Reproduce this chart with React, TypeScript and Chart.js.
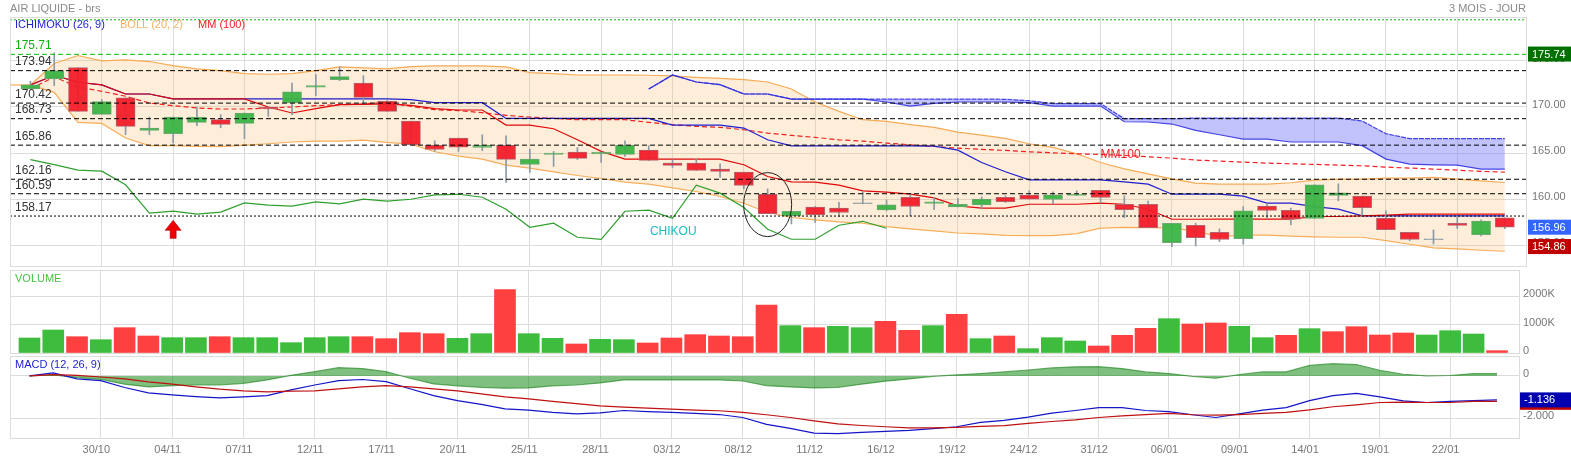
import { useEffect, useRef } from 'react'
import { Chart, LinearScale, registerables } from 'chart.js'

const opens = [171.96, 173.04, 174.28, 169.2, 170.98, 167.46, 167.1, 168.33, 168.62, 168.22, 170, 170.43, 172.14, 172.97, 172.6, 170.62, 168.48, 165.83, 166.63, 165.61, 165.83, 163.76, 164.85, 165.1, 164.92, 164.85, 165.32, 163.91, 163.91, 163.26, 162.93, 160.53, 158.18, 159.13, 159.02, 159.6, 158.84, 160.21, 159.53, 159.17, 159.38, 160.21, 160.43, 159.96, 160.4, 160.97, 159.45, 159.45, 155.29, 157.17, 156.41, 155.72, 159.24, 158.8, 157.9, 160.4, 160.33, 157.93, 156.41, 155.7, 157.39, 156.16, 157.97]
const closes = [172.39, 173.95, 169.53, 170.58, 167.9, 167.72, 168.91, 168.91, 168.12, 169.35, 169.78, 171.63, 172.32, 173.3, 171.05, 169.53, 165.9, 165.39, 165.65, 165.83, 164.31, 164.34, 165, 164.42, 165.1, 165.83, 164.2, 163.65, 163.11, 163, 161.48, 158.43, 158.69, 158.33, 158.55, 159.5, 159.38, 159.2, 159.71, 159.45, 160, 159.74, 160, 160.47, 160.54, 160.18, 158.87, 156.91, 157.39, 155.83, 155.62, 158.73, 158.77, 157.83, 161.56, 160.69, 159.09, 156.7, 155.62, 155.6, 157.14, 157.61, 156.96]
const highs = [172.79, 175.87, 174.28, 170.8, 170.98, 168.91, 168.91, 170, 169.17, 169.35, 170, 172.6, 173.51, 174.35, 173.41, 170.7, 168.48, 166.34, 166.63, 166.99, 166.88, 165.43, 165.18, 165.6, 165.1, 166.34, 165.79, 164.27, 164.34, 163.84, 162.93, 161.12, 158.69, 159.2, 159.67, 160.83, 159.92, 160.54, 160.21, 160.1, 160.25, 160.36, 160.9, 160.8, 160.9, 160.97, 160.36, 159.8, 157.39, 157.39, 156.78, 159.2, 159.49, 159.02, 161.56, 161.67, 160.33, 158.73, 156.41, 156.67, 158.12, 157.75, 157.97]
const lows = [171.96, 172.32, 169.53, 169.2, 167, 167, 166.09, 167.97, 167.75, 166.56, 168.99, 169.17, 171.23, 172.86, 170.36, 169.53, 165.9, 165.18, 165.18, 165.25, 161.81, 162.9, 163.55, 164.3, 163.98, 164.63, 164.2, 163.44, 163.11, 162.35, 161.12, 158.43, 157.31, 157.46, 158.11, 159.49, 158.73, 158.18, 158.87, 159.17, 158.95, 159.63, 160, 159.49, 160.4, 159.56, 157.99, 156.91, 154.85, 154.92, 155.4, 155.11, 157.93, 157.21, 157.9, 159.82, 158.12, 156.7, 155.5, 155.14, 156.81, 156.01, 156.81]

const bollUpper = [172.39, 174.71, 175.58, 175, 175.11, 174.93, 174.49, 174.13, 173.95, 173.62, 173.55, 173.62, 173.95, 174.35, 174.24, 174.13, 174.38, 174.45, 174.45, 174.45, 174.34, 173.73, 173.62, 173.47, 173.47, 173.47, 173.44, 173.37, 173.22, 173.11, 172.97, 172.71, 171.95, 170.54, 169.52, 168.62, 168.44, 168.08, 167.79, 167.28, 166.95, 166.59, 166.01, 165.61, 164.92, 163.98, 163.29, 162.75, 162.2, 161.74, 161.63, 161.63, 161.63, 161.78, 162.07, 162.17, 162.17, 162.28, 162.28, 162.36, 162.17, 161.99, 161.81]
const bollLower = [172.39, 171.59, 168.33, 168.22, 166.63, 165.8, 165.8, 165.72, 165.69, 165.87, 166.01, 166.2, 166.3, 166.3, 166.41, 166.16, 165.97, 165.14, 164.67, 164.34, 163.69, 163.37, 162.97, 162.57, 162.24, 161.84, 161.63, 161.23, 160.83, 160.29, 159.56, 158.55, 158.01, 157.75, 157.53, 157.39, 157.03, 156.77, 156.55, 156.33, 156.23, 156.08, 156.05, 156.05, 156.27, 156.85, 156.95, 156.91, 156.88, 156.5, 155.94, 156.09, 156.09, 155.98, 155.91, 155.87, 155.87, 155.51, 155.11, 154.71, 154.6, 154.46, 154.35]
const mm100 = [171.96, 173.26, 172.17, 171.7, 171.16, 170.43, 170.14, 169.89, 169.78, 169.78, 169.89, 170, 170.14, 170.25, 170.33, 170.5, 170.07, 169.71, 169.6, 169.38, 169.09, 168.91, 168.76, 168.62, 168.62, 168.62, 168.33, 168.08, 167.9, 167.79, 167.53, 167.17, 166.91, 166.7, 166.44, 166.3, 166.08, 165.9, 165.72, 165.54, 165.4, 165.29, 165.14, 165.03, 164.92, 164.85, 164.74, 164.6, 164.45, 164.24, 164.13, 164.02, 163.91, 163.84, 163.77, 163.7, 163.62, 163.48, 163.37, 163.26, 163.15, 163.01, 162.93]
const tenkan = [172.39, 173.44, 172.68, 172.39, 171.41, 171.41, 170.87, 170.87, 170.87, 170.87, 170, 169.35, 169.82, 170.25, 170.29, 170.33, 170.18, 169.82, 169.67, 169.67, 168.04, 168.04, 167.64, 166.44, 165.18, 164.34, 164.34, 164.34, 164.34, 164.34, 163.73, 162.46, 161.88, 161.85, 161.52, 160.9, 160.76, 160.54, 160.14, 159.27, 159.02, 159.02, 159.45, 159.45, 159.45, 159.56, 159.45, 158.91, 157.82, 157.82, 157.83, 157.83, 157.83, 157.83, 158.12, 158.12, 158.19, 158.26, 158.37, 158.37, 158.37, 158.37, 158.37]
const kijun = [172.39, 173.44, 172.68, 172.39, 171.41, 171.41, 170.87, 170.87, 170.87, 170.87, 170.87, 170.87, 170.87, 170.87, 170.87, 170.87, 170.79, 170.47, 170.47, 170.47, 168.76, 168.76, 168.76, 168.76, 168.76, 168.76, 168.76, 168.04, 168.04, 168.04, 167.71, 166.44, 165.79, 165.79, 165.79, 165.79, 165.79, 165.79, 165.76, 165.32, 163.98, 162.97, 162.1, 162.1, 162.1, 162.1, 161.88, 161.63, 160.54, 160.54, 160.54, 160.33, 159.57, 159.57, 159.2, 158.91, 158.19, 158.19, 158.19, 158.19, 158.19, 158.19, 158.19]
const chikou = [164.28, 163.74, 163.15, 163.04, 161.56, 158.48, 158.7, 158.37, 158.59, 159.6, 159.35, 159.24, 159.71, 159.49, 160, 159.78, 159.99, 160.47, 160.53, 160.21, 158.91, 156.95, 157.39, 155.87, 155.65, 158.69, 158.8, 157.93, 161.52, 160.65, 159.09, 156.74, 155.65, 155.65, 157.17, 157.6, 156.85]
// both spans start 26 sessions in
const cloudStart = 26
const spanA = [171.95, 173.47, 172.71, 172.42, 171.41, 171.41, 170.86, 170.86, 170.86, 170.86, 170.86, 170.86, 170.86, 170.86, 170.86, 170.83, 170.68, 170.36, 170.36, 170.36, 168.73, 168.73, 168.73, 168.8, 168.8, 168.8, 168.8, 168.8, 168.8, 168.8, 168.48, 167.1, 166.56, 166.56, 166.56, 166.56, 166.56]
const spanB = [171.95, 173.47, 172.71, 172.42, 171.41, 171.41, 170.86, 170.86, 170.86, 170.86, 170.54, 170.1, 170.39, 170.54, 170.54, 170.54, 170.47, 170.1, 170.1, 170.1, 168.4, 168.37, 168.15, 167.46, 166.99, 166.52, 166.52, 166.2, 166.2, 166.2, 165.8, 164.35, 163.8, 163.73, 163.7, 163.26, 163.26]

const levels = [175.71, 173.94, 170.42, 168.73, 165.86, 162.16, 160.59, 158.17]
const topLevel = 179.46

// volumes in thousands, with the direction the bar is coloured by
const volumes = [529, 812, 576, 470, 894, 600, 541, 541, 576, 541, 541, 365, 541, 576, 576, 506, 718, 682, 518, 682, 2235, 682, 518, 318, 482, 470, 353, 529, 647, 600, 576, 1694, 965, 894, 941, 894, 1118, 800, 965, 1365, 506, 600, 153, 541, 424, 247, 624, 871, 1212, 1024, 1059, 941, 541, 624, 859, 753, 929, 635, 706, 635, 788, 670, 82]
const volumeUp = [1, 1, 0, 1, 0, 0, 1, 1, 0, 1, 1, 1, 1, 1, 0, 0, 0, 0, 1, 1, 0, 1, 1, 0, 1, 1, 0, 0, 0, 0, 0, 0, 1, 0, 1, 1, 0, 0, 1, 0, 1, 0, 1, 1, 1, 0, 0, 0, 1, 0, 0, 1, 1, 0, 1, 0, 0, 0, 0, 1, 1, 1, 0]
const volumeTicks = [0, 1000, 2000]

const macd = [0, 0.14, -0.14, -0.22, -0.55, -0.8, -0.9, -0.98, -1.04, -0.99, -0.93, -0.66, -0.43, -0.22, -0.17, -0.27, -0.61, -0.93, -1.17, -1.35, -1.56, -1.62, -1.73, -1.8, -1.75, -1.64, -1.69, -1.73, -1.78, -1.83, -1.97, -2.3, -2.49, -2.71, -2.74, -2.68, -2.63, -2.58, -2.5, -2.41, -2.2, -2.11, -1.95, -1.76, -1.64, -1.5, -1.5, -1.64, -1.69, -1.84, -1.97, -1.8, -1.62, -1.5, -1.17, -0.93, -0.83, -0.99, -1.18, -1.26, -1.21, -1.17, -1.136]
const signal = [0, 0.06, 0.03, -0.05, -0.14, -0.28, -0.39, -0.52, -0.63, -0.71, -0.76, -0.72, -0.71, -0.61, -0.52, -0.46, -0.52, -0.61, -0.71, -0.85, -0.99, -1.09, -1.21, -1.31, -1.42, -1.48, -1.53, -1.57, -1.62, -1.65, -1.73, -1.84, -1.97, -2.13, -2.27, -2.35, -2.41, -2.46, -2.46, -2.44, -2.39, -2.36, -2.25, -2.16, -2.08, -1.97, -1.89, -1.83, -1.78, -1.84, -1.86, -1.83, -1.78, -1.73, -1.61, -1.46, -1.37, -1.26, -1.24, -1.26, -1.26, -1.21, -1.21]
const histogram = [0, 0.05, -0.08, -0.16, -0.39, -0.52, -0.46, -0.43, -0.43, -0.35, -0.19, 0.03, 0.2, 0.39, 0.35, 0.2, -0.11, -0.38, -0.47, -0.54, -0.58, -0.57, -0.47, -0.43, -0.33, -0.19, -0.19, -0.19, -0.19, -0.19, -0.24, -0.46, -0.52, -0.57, -0.54, -0.39, -0.25, -0.14, -0.02, 0.05, 0.11, 0.19, 0.28, 0.38, 0.43, 0.44, 0.35, 0.19, 0.11, -0.02, -0.11, 0.06, 0.19, 0.19, 0.5, 0.58, 0.54, 0.27, 0.08, 0, 0.02, 0.11, 0.11]

// one date every third session, starting at session 3
const tickDates = ['30/10', '04/11', '07/11', '12/11', '17/11', '20/11', '25/11', '28/11', '03/12', '08/12', '11/12', '16/12', '19/12', '24/12', '31/12', '06/01', '09/01', '14/01', '19/01', '22/01']
const tickSessions = tickDates.map((_, i) => (i + 1) * 3)

const FONT = '"Liberation Sans", Arial, sans-serif'
const GRID = '#dcdcdc'
const points = (values: number[], start = 0) => values.map((y, i) => ({ x: i + start, y }))

// the lower panels are squeezed a little after session 43
class KneeScale extends LinearScale {
  static id = 'knee'
  getPixelForValue(value: number) {
    const knee = 43
    const share = 0.6904
    const t = value <= knee
      ? ((value - this.min) / (knee - this.min)) * share
      : share + ((value - knee) / (this.max - knee)) * (1 - share)
    return this.left + t * this.width
  }
}

Chart.register(...registerables, KneeScale)

function text(ctx: CanvasRenderingContext2D, s: string, x: number, y: number, color: string, size = 11) {
  ctx.font = `${size}px ${FONT}`
  ctx.fillStyle = color
  ctx.textAlign = 'left'
  ctx.textBaseline = 'middle'
  ctx.fillText(s, x, y)
}

function valueBox(ctx: CanvasRenderingContext2D, s: string, left: number, y: number, bg: string) {
  ctx.fillStyle = bg
  ctx.fillRect(left, y - 7.5, 1571 - left, 15)
  text(ctx, s, left + 4, y + 0.5, '#fff')
}

function frame(chart: Chart) {
  const { ctx, chartArea: a } = chart
  ctx.save()
  ctx.strokeStyle = GRID
  ctx.lineWidth = 1
  ctx.strokeRect(a.left + 0.5, a.top + 0.5, a.right - a.left, a.bottom - a.top)
  ctx.restore()
}

// fixed axis width, and no room kept for half a tick label above and below
const fitY = (width: number) => (s: any) => {
  s.width = width
  s.paddingTop = 0
  s.paddingBottom = 0
}

function sharedOptions(padding: object, yOptions: object, xOptions: object, xType: string, xMin: number, xMax: number): any {
  return {
    animation: false,
    responsive: false,
    events: [],
    layout: { autoPadding: false, padding },
    plugins: { legend: { display: false }, tooltip: { enabled: false } },
    scales: {
      x: {
        type: xType,
        min: xMin,
        max: xMax,
        offset: false,
        grid: { color: GRID, drawTicks: false, offset: false },
        border: { display: false },
        afterBuildTicks: (s: any) => { s.ticks = tickSessions.map((value) => ({ value })) },
        ...xOptions,
      },
      y: {
        position: 'right',
        grid: { color: GRID, drawTicks: false },
        border: { display: false },
        ...yOptions,
      },
    },
  }
}

function line(data: object[], color: string, order: number, extra: object = {}) {
  return { type: 'line', data, borderColor: color, borderWidth: 1.2, pointRadius: 0, tension: 0, fill: false, order, ...extra }
}

const mainOverlay = {
  id: 'mainOverlay',
  afterDraw(chart: any) {
    const { ctx } = chart
    const x = chart.scales.x
    const y = chart.scales.y
    frame(chart)
    ctx.save()

    text(ctx, 'AIR LIQUIDE - brs', 10, 8.5, '#8a8a8a')
    text(ctx, '3 MOIS - JOUR', 1449, 8.5, '#8a8a8a')
    text(ctx, 'ICHIMOKU (26, 9)', 15, 25, '#2222cc')
    text(ctx, 'BOLL (20, 2)', 120, 25, '#f7b060')
    text(ctx, 'MM (100)', 198, 25, '#ee2222')

    levels.forEach((level, i) => {
      text(ctx, level.toFixed(2), 15, y.getPixelForValue(level) - 8.5, i === 0 ? '#10b010' : '#333', 12)
    })

    text(ctx, 'MM100', x.getPixelForValue(45), y.getPixelForValue(164.8), '#ee2222', 12)
    text(ctx, 'CHIKOU', x.getPixelForValue(26.05), y.getPixelForValue(156.5), '#18bcc4', 12)

    // signal arrow under the 04/11 session
    const ax = x.getPixelForValue(6)
    const at = y.getPixelForValue(157.7)
    ctx.fillStyle = '#f00000'
    ctx.strokeStyle = '#b00000'
    ctx.lineWidth = 0.6
    ctx.beginPath()
    ctx.moveTo(ax, at)
    ctx.lineTo(ax + 8, at + 10)
    ctx.lineTo(ax + 3, at + 10)
    ctx.lineTo(ax + 3, at + 18)
    ctx.lineTo(ax - 3, at + 18)
    ctx.lineTo(ax - 3, at + 10)
    ctx.lineTo(ax - 8, at + 10)
    ctx.closePath()
    ctx.fill()
    ctx.stroke()

    // circled candle
    ctx.strokeStyle = '#222'
    ctx.lineWidth = 1
    ctx.beginPath()
    ctx.ellipse(x.getPixelForValue(31), y.getPixelForValue(159.41), 24, 32, 0, 0, Math.PI * 2)
    ctx.stroke()

    valueBox(ctx, '175.74', 1528, y.getPixelForValue(175.74), '#007000')
    valueBox(ctx, closes[closes.length - 1].toFixed(2), 1528, y.getPixelForValue(156.96), '#3366ff')
    valueBox(ctx, '154.86', 1528, y.getPixelForValue(154.86), '#c00000')
    ctx.restore()
  },
}

const volumeOverlay = {
  id: 'volumeOverlay',
  afterDraw(chart: any) {
    frame(chart)
    text(chart.ctx, 'VOLUME', 15, 11, '#44c444')
  },
}

const macdOverlay = {
  id: 'macdOverlay',
  afterDraw(chart: any) {
    const { ctx } = chart
    const y = chart.scales.y
    frame(chart)
    text(ctx, 'MACD (12, 26, 9)', 15, 10, '#2222cc')
    ctx.fillStyle = '#c00000'
    ctx.fillRect(1520, y.getPixelForValue(-1.25) - 7.5, 51, 15)
    valueBox(ctx, macd[macd.length - 1].toFixed(3), 1520, y.getPixelForValue(-1.136), '#0000b0')
  },
}

function mainConfig(): any {
  const isDoji = (i: number) => Math.abs(opens[i] - closes[i]) <= 0.1
  const candleFill = opens.map((o, i) => (isDoji(i) ? '#8a9aa0' : closes[i] > o ? 'rgba(60,180,70,0.95)' : 'rgba(242,30,42,0.95)'))
  const candleEdge = opens.map((o, i) => (isDoji(i) ? '#8a9aa0' : closes[i] > o ? '#6fa873' : '#b5646e'))
  const xMin = -0.86
  const xMax = 62.89
  const levelLine = (y: number, color: string, dash: number[]) =>
    line([{ x: xMin, y }, { x: xMax, y }], color, 0, { borderDash: dash, borderWidth: 1 })
  return {
    type: 'bar',
    data: {
      datasets: [
        levelLine(topLevel, '#00c000', [2, 2]),
        ...levels.map((l, i) => levelLine(l, i === 0 ? '#00c000' : '#000', i === levels.length - 1 ? [2, 2] : [5, 3])),
        {
          type: 'bar',
          data: opens.map((o, i) => ({ x: i, y: [o, closes[i]] })),
          backgroundColor: candleFill,
          borderColor: candleEdge,
          borderWidth: 1,
          borderSkipped: false,
          barThickness: 19,
          grouped: false,
          order: 2,
        },
        {
          type: 'bar',
          data: lows.map((l, i) => ({ x: i, y: [l, highs[i]] })),
          backgroundColor: '#8a9aa6',
          barThickness: 1,
          grouped: false,
          order: 3,
        },
        line(points(tenkan), '#e00808', 4),
        line(points(kijun), '#1f1fd0', 5),
        line(points(mm100), '#f02020', 6, { borderDash: [5, 3] }),
        line(points(chikou), '#2f9f2f', 7),
        line(points(spanA, cloudStart), 'rgba(40,40,225,0.85)', 8, { borderDash: [5, 1] }),
        line(points(spanB, cloudStart), 'rgba(40,40,225,0.85)', 9, {
          fill: '-1',
          backgroundColor: 'rgba(110,110,250,0.42)',
        }),
        line(points(bollUpper), '#f7ab55', 10, { fill: '+1', backgroundColor: 'rgba(248,190,120,0.28)' }),
        line(points(bollLower), '#f7ab55', 11),
        line([{ x: xMin, y: bollUpper[0] }, { x: 0, y: bollUpper[0] }], '#f7ab55', 11),
      ],
    },
    options: sharedOptions(
      { left: 10, top: 17, right: 0, bottom: 2 },
      {
        min: 152.75,
        max: 179.76,
        afterFit: fitY(45),
        ticks: {
          stepSize: 5,
          includeBounds: false,
          padding: 6,
          labelOffset: -2,
          color: '#777',
          font: { family: FONT, size: 11 },
          callback: (v: number) => v.toFixed(2),
        },
      },
      {
        ticks: { display: false },
        afterFit: (s: any) => { s.height = 0 },
      },
      'linear',
      xMin,
      xMax,
    ),
    plugins: [mainOverlay],
  }
}

function volumeConfig(): any {
  return {
    type: 'bar',
    data: {
      datasets: [
        {
          data: volumes.map((y, x) => ({ x, y })),
          backgroundColor: volumeUp.map((up) => (up ? 'rgba(44,182,44,0.92)' : 'rgba(255,48,48,0.92)')),
          barThickness: 21,
          grouped: false,
        },
      ],
    },
    options: sharedOptions(
      { left: 10, top: 2, right: 0, bottom: 2 },
      {
        min: 0,
        max: 2930,
        afterFit: fitY(52),
        afterBuildTicks: (s: any) => { s.ticks = volumeTicks.map((value) => ({ value })) },
        ticks: {
          padding: 4,
          labelOffset: -2,
          color: '#777',
          font: { family: FONT, size: 11 },
          callback: (v: number) => (v === 0 ? '0' : `${v}K`),
        },
      },
      {
        ticks: { display: false },
        afterFit: (s: any) => { s.height = 0 },
      },
      'knee',
      -0.82,
      62.94,
    ),
    plugins: [volumeOverlay],
  }
}

function macdConfig(): any {
  return {
    type: 'line',
    data: {
      datasets: [
        line(points(signal), '#c01010', 1),
        line(points(macd), '#1414c8', 2),
        line(points(histogram), 'rgba(40,140,40,0.7)', 3, {
          fill: 'origin',
          backgroundColor: 'rgba(0,128,0,0.5)',
        }),
      ],
    },
    options: sharedOptions(
      { left: 10, top: 1, right: 0, bottom: 0 },
      {
        min: -2.943,
        max: 0.945,
        afterFit: fitY(52),
        ticks: {
          stepSize: 2,
          includeBounds: false,
          padding: 4,
          labelOffset: -2,
          color: '#777',
          font: { family: FONT, size: 11 },
          callback: (v: number) => (v === 0 ? '0' : v.toFixed(3)),
        },
      },
      {
        afterFit: (s: any) => { s.height = 21 },
        ticks: {
          padding: 5,
          labelOffset: -4.5,
          maxRotation: 0,
          autoSkip: false,
          color: '#777',
          font: { family: FONT, size: 11 },
          callback: (_: number, i: number) => tickDates[i],
        },
      },
      'knee',
      -0.82,
      62.94,
    ),
    plugins: [macdOverlay],
  }
}

function Panel({ top, height, config }: { top: number; height: number; config: () => any }) {
  const ref = useRef<HTMLCanvasElement>(null)

  useEffect(() => {
    if (!ref.current) return
    const chart = new Chart(ref.current, config())
    return () => chart.destroy()
  }, [config])

  return (
    <canvas
      ref={ref}
      width={1571}
      height={height}
      style={{ position: 'absolute', left: 0, top, width: 1571, height, display: 'block' }}
    />
  )
}

export default function App() {
  return (
    <div style={{ position: 'absolute', left: 0, top: 0, width: 1571, height: 459, overflow: 'hidden', background: '#fff' }}>
      <Panel top={0} height={268} config={mainConfig} />
      <Panel top={268} height={87} config={volumeConfig} />
      <Panel top={355} height={104} config={macdConfig} />
    </div>
  )
}
